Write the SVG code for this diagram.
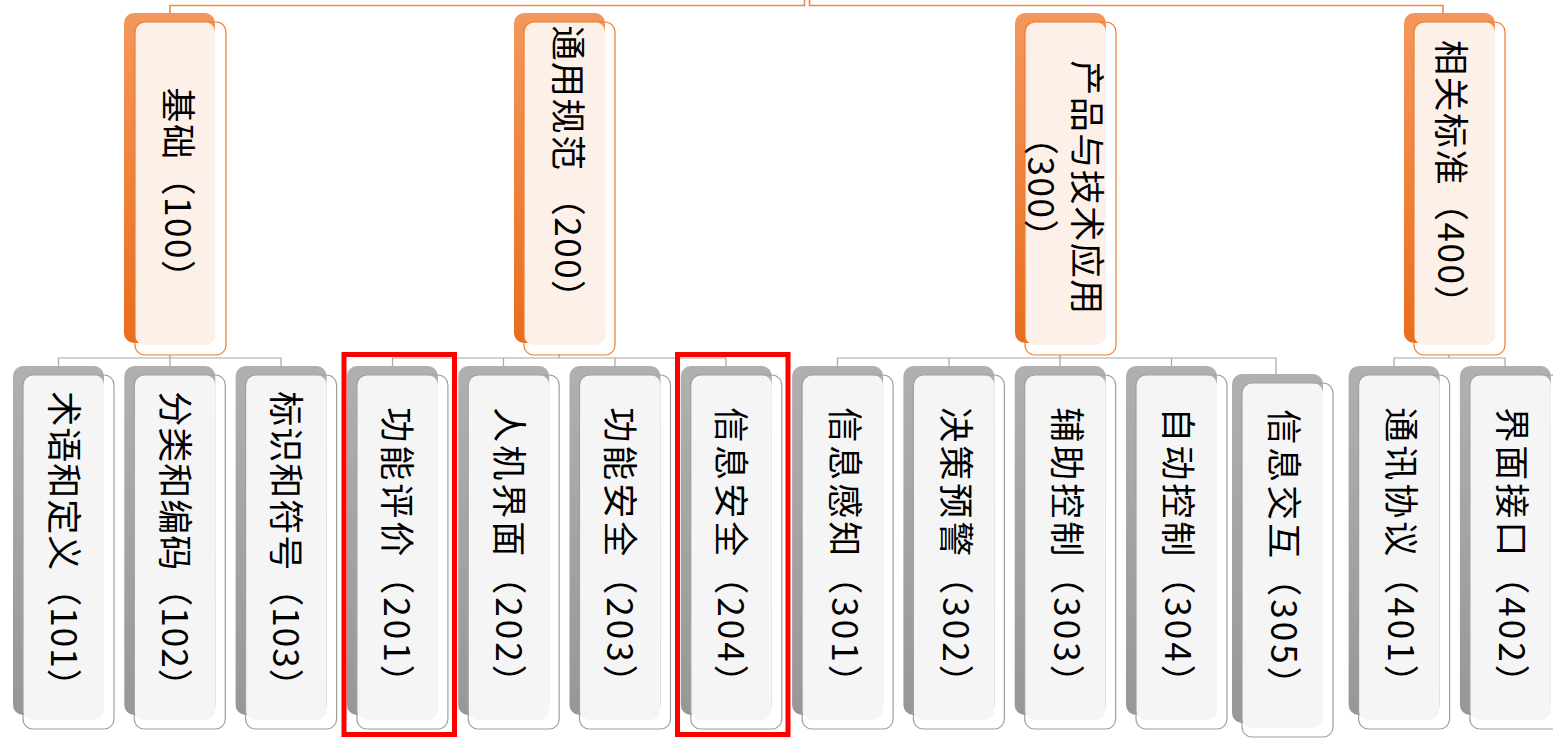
<svg xmlns="http://www.w3.org/2000/svg" width="1553" height="738" viewBox="0 0 1553 738">
<defs>
<linearGradient id="og" x1="0" y1="0" x2="0" y2="1"><stop offset="0" stop-color="#F4975C"/><stop offset="1" stop-color="#E96D1C"/></linearGradient>
<linearGradient id="gg" x1="0" y1="0" x2="0" y2="1"><stop offset="0" stop-color="#B0B0B0"/><stop offset="1" stop-color="#979797"/></linearGradient>
</defs>
<style>
.ob{fill:url(#og)}
.of{fill:#FDF0E9}
.obd{fill:none;stroke:#ED7D31;stroke-width:1.2}
.gb{fill:url(#gg)}
.gf{fill:#F5F5F5}
.gbd{fill:none;stroke:#A0A0A0;stroke-width:1.2}
.t{font-family:"Noto Sans CJK SC","Microsoft YaHei",sans-serif;font-size:35px;fill:#000;text-anchor:middle;dominant-baseline:central}
.o{letter-spacing:1.5px}
.g4{letter-spacing:3px}
.g5{letter-spacing:1px}
.cg{fill:none;stroke:#A6A6A6;stroke-width:1.2}
.co{fill:none;stroke:#F0884A;stroke-width:1.6}
.red{fill:none;stroke:#FF0000;stroke-width:5}
</style>
<rect width="1553" height="738" fill="#FFFFFF"/>
<g id="connectors">
<path class="co" d="M170,13 V5.5 H804.5 V0 M809.5,0 V5.5 H1443 V13"/>
<path class="cg" d="M170,355 V366 M58.5,366 V358 H281 V366"/>
<path class="cg" d="M559,354 V358 M392.5,366 V358 H726 V366 M503.5,358 V366 M615,358 V366"/>
<path class="cg" d="M1060,355 V366 M837.5,366 V358 H1276 V374 M949,358 V366 M1171.5,358 V366"/>
<path class="cg" d="M1449,355 V358 M1394,366 V358 H1505 V366"/>
</g>
<g id="n100"><rect class="ob" x="124" y="13" width="91" height="330" rx="10"/><rect class="of" x="135" y="22" width="80" height="323" rx="10"/><rect class="obd" x="135" y="22" width="91" height="333" rx="10"/><text class="t o" transform="translate(180,192) rotate(90)">基础（100）</text></g>
<g id="n200"><rect class="ob" x="514" y="13" width="91" height="330" rx="10"/><rect class="of" x="524" y="22" width="81" height="323" rx="10"/><rect class="obd" x="524" y="22" width="91" height="333" rx="10"/><text class="t o" transform="translate(570,171) rotate(90)">通用规范 （200）</text></g>
<g id="n300"><rect class="ob" x="1015" y="13" width="91" height="330" rx="10"/><rect class="of" x="1025" y="22" width="81" height="323" rx="10"/><rect class="obd" x="1025" y="22" width="91" height="333" rx="10"/><text class="t o" transform="translate(1067,188) rotate(90)"><tspan x="0" y="-23">产品与技术应用</tspan><tspan x="0" y="23">（300）</tspan></text></g>
<g id="n400"><rect class="ob" x="1404" y="13" width="91" height="330" rx="10"/><rect class="of" x="1414" y="22" width="81" height="323" rx="10"/><rect class="obd" x="1414" y="22" width="91" height="333" rx="10"/><text class="t o" transform="translate(1453,181) rotate(90)">相关标准（400）</text></g>
<g id="n101"><rect class="gb" x="13" y="366" width="91" height="349" rx="10"/><rect class="gf" x="23" y="375" width="81" height="345" rx="10"/><rect class="gbd" x="23" y="375" width="91" height="354" rx="10"/><text class="t g5" transform="translate(66,548) rotate(90)">术语和定义（101）</text></g>
<g id="n102"><rect class="gb" x="124.3" y="366" width="91" height="349" rx="10"/><rect class="gf" x="134.3" y="375" width="81" height="345" rx="10"/><rect class="gbd" x="134.3" y="375" width="91" height="354" rx="10"/><text class="t g5" transform="translate(177.3,548) rotate(90)">分类和编码（102）</text></g>
<g id="n103"><rect class="gb" x="235.6" y="366" width="91" height="349" rx="10"/><rect class="gf" x="245.6" y="375" width="81" height="345" rx="10"/><rect class="gbd" x="245.6" y="375" width="91" height="354" rx="10"/><text class="t g5" transform="translate(288.6,548) rotate(90)">标识和符号（103）</text></g>
<g id="n201"><rect class="gb" x="346.9" y="366" width="91" height="349" rx="10"/><rect class="gf" x="356.9" y="375" width="81" height="345" rx="10"/><rect class="gbd" x="356.9" y="375" width="91" height="354" rx="10"/><text class="t g4" transform="translate(399.9,555) rotate(90)">功能评价（201）</text></g>
<g id="n202"><rect class="gb" x="458.2" y="366" width="91" height="349" rx="10"/><rect class="gf" x="468.2" y="375" width="81" height="345" rx="10"/><rect class="gbd" x="468.2" y="375" width="91" height="354" rx="10"/><text class="t g4" transform="translate(511.2,555) rotate(90)">人机界面（202）</text></g>
<g id="n203"><rect class="gb" x="569.5" y="366" width="91" height="349" rx="10"/><rect class="gf" x="579.5" y="375" width="81" height="345" rx="10"/><rect class="gbd" x="579.5" y="375" width="91" height="354" rx="10"/><text class="t g4" transform="translate(622.5,555) rotate(90)">功能安全（203）</text></g>
<g id="n204"><rect class="gb" x="680.8" y="366" width="91" height="349" rx="10"/><rect class="gf" x="690.8" y="375" width="81" height="345" rx="10"/><rect class="gbd" x="690.8" y="375" width="91" height="354" rx="10"/><text class="t g4" transform="translate(733.8,555) rotate(90)">信息安全（204）</text></g>
<g id="n301"><rect class="gb" x="792.1" y="366" width="91" height="349" rx="10"/><rect class="gf" x="802.1" y="375" width="81" height="345" rx="10"/><rect class="gbd" x="802.1" y="375" width="91" height="354" rx="10"/><text class="t g4" transform="translate(847,555) rotate(90)">信息感知（301）</text></g>
<g id="n302"><rect class="gb" x="903.4" y="366" width="91" height="349" rx="10"/><rect class="gf" x="913.4" y="375" width="81" height="345" rx="10"/><rect class="gbd" x="913.4" y="375" width="91" height="354" rx="10"/><text class="t g4" transform="translate(958,555) rotate(90)">决策预警（302）</text></g>
<g id="n303"><rect class="gb" x="1014.7" y="366" width="91" height="349" rx="10"/><rect class="gf" x="1024.7" y="375" width="81" height="345" rx="10"/><rect class="gbd" x="1024.7" y="375" width="91" height="354" rx="10"/><text class="t g4" transform="translate(1069,555) rotate(90)">辅助控制（303）</text></g>
<g id="n304"><rect class="gb" x="1126" y="366" width="91" height="349" rx="10"/><rect class="gf" x="1136" y="375" width="81" height="345" rx="10"/><rect class="gbd" x="1136" y="375" width="91" height="354" rx="10"/><text class="t g4" transform="translate(1180,555) rotate(90)">自动控制（304）</text></g>
<g id="n305"><rect class="gb" x="1232" y="374" width="91" height="349" rx="10"/><rect class="gf" x="1242" y="383" width="81" height="345" rx="10"/><rect class="gbd" x="1242" y="383" width="91" height="354" rx="10"/><text class="t g4" transform="translate(1286,557) rotate(90)">信息交互（305）</text></g>
<g id="n401"><rect class="gb" x="1348.6" y="366" width="91" height="349" rx="10"/><rect class="gf" x="1358.6" y="375" width="81" height="345" rx="10"/><rect class="gbd" x="1358.6" y="375" width="91" height="354" rx="10"/><text class="t g4" transform="translate(1403,555) rotate(90)">通讯协议（401）</text></g>
<g id="n402"><rect class="gb" x="1459.9" y="366" width="91" height="349" rx="10"/><rect class="gf" x="1469.9" y="375" width="81" height="345" rx="10"/><rect class="gbd" x="1469.9" y="375" width="91" height="354" rx="10"/><text class="t g4" transform="translate(1514,555) rotate(90)">界面接口（402）</text></g>
<g id="highlights">
<rect class="red" x="344" y="354.5" width="110.5" height="380"/>
<rect class="red" x="677.5" y="354.5" width="110.5" height="380"/>
</g>
</svg>
